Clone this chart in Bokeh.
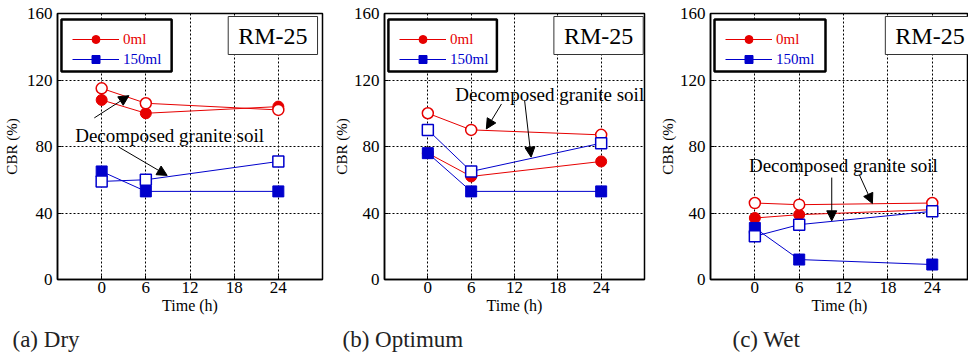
from bokeh.plotting import figure
from bokeh.layouts import row
from bokeh.models import (Range1d, FixedTicker, Legend, LegendItem, Label,
                          Arrow, NormalHead, BoxAnnotation, Title)
from bokeh.embed import file_html
from bokeh.resources import INLINE

# ---------------- data ----------------
times = [0, 6, 24]
x_ticks = [0, 6, 12, 18, 24]
y_ticks = [0, 40, 80, 120, 160]
legend_labels = ["0ml", "150ml"]
panel_titles = ["(a) Dry", "(b) Optimum", "(c) Wet"]
box_text = "RM-25"
note_text = "Decomposed granite soil"

# filled markers (legend series) and open markers (decomposed granite soil)
dry_0ml = [108, 100, 104]
dry_0ml_dgs = [115, 106, 102]
dry_150ml = [65, 53, 53]
dry_150ml_dgs = [59, 60, 71]

opt_0ml = [76, 62, 71]
opt_0ml_dgs = [100, 90, 87]
opt_150ml = [76, 53, 53]
opt_150ml_dgs = [90, 65, 82]

wet_0ml = [37, 39, 42]
wet_0ml_dgs = [46, 45, 46]
wet_150ml = [31, 12, 9]
wet_150ml_dgs = [26, 33, 41]

# annotation arrows (x_start, y_start, x_end, y_end) and note anchors
dry_arrows = [(-1.0, 97.2, 3.7, 110.6), (2.35, 79.6, 8.9, 62.6)]
opt_arrows = [(10.2, 105.6, 8.1, 90.6), (13.4, 107.6, 14.3, 73.6)]
wet_arrows = [(10.4, 61.3, 10.4, 35.3), (14.1, 63.3, 15.9, 45.7)]
dry_note = (-3.6, 86.6)
opt_note = (3.8, 111.0)
wet_note = (-0.8, 68.7)

FONT = "Liberation Serif"
RED = "#e60000"
BLUE = "#0000cc"
H = 362
TOP, BOTTOM = 13, 83


def make_panel(title, s0, s0d, s1, s1d, arrows, note, W, ml, mr, x_end,
               cap_dx, box_cx, ylab_standoff):
    p = figure(width=W, height=H, title=None,
               x_range=Range1d(-6, x_end), y_range=Range1d(0, 160),
               output_backend="svg", toolbar_location=None,
               min_border_left=ml, min_border_right=mr,
               min_border_top=TOP, min_border_bottom=BOTTOM)
    fw = W - ml - mr
    fh = H - TOP - BOTTOM
    ppx = fw / (x_end + 6)
    ppy = fh / 160.0

    p.background_fill_color = "white"
    p.border_fill_color = "white"
    p.outline_line_color = "black"
    p.outline_line_width = 1.5

    for ax in (p.xaxis, p.yaxis):
        ax.major_label_text_font = FONT
        ax.major_label_text_font_size = "17px"
        ax.major_label_text_color = "black"
        ax.axis_label_text_font = FONT
        ax.axis_label_text_font_style = "normal"
        ax.axis_label_text_color = "black"
        ax.axis_line_color = "black"
        ax.axis_line_width = 1.5
        ax.major_tick_in = 4
        ax.major_tick_out = 0
        ax.minor_tick_line_color = None
        ax.major_tick_line_color = "black"
    p.xaxis.ticker = FixedTicker(ticks=x_ticks)
    p.yaxis.ticker = FixedTicker(ticks=y_ticks)
    p.xaxis.axis_label = "Time (h)"
    p.yaxis.axis_label = "CBR (%)"
    p.xaxis.axis_label_text_font_size = "16px"
    p.yaxis.axis_label_text_font_size = "15px"
    p.xaxis.major_label_standoff = 2
    p.yaxis.major_label_standoff = 5
    p.xaxis.axis_label_standoff = 1
    p.yaxis.axis_label_standoff = ylab_standoff

    for g in (p.xgrid, p.ygrid):
        g.grid_line_color = "black"
        g.grid_line_dash = "2 2"
        g.grid_line_width = 1
    p.xgrid.ticker = FixedTicker(ticks=x_ticks)
    p.ygrid.ticker = FixedTicker(ticks=y_ticks)

    # lines
    l0 = p.line(times, s0, line_color=RED, line_width=1)
    p.line(times, s0d, line_color=RED, line_width=1)
    l1 = p.line(times, s1, line_color=BLUE, line_width=1)
    p.line(times, s1d, line_color=BLUE, line_width=1)
    # markers
    m0 = p.scatter(times, s0, marker="circle", size=11, fill_color=RED, line_color=RED)
    p.scatter(times, s0d, marker="circle", size=11, fill_color="white",
              line_color=RED, line_width=1.5)
    m1 = p.scatter(times, s1, marker="square", size=11, fill_color=BLUE, line_color=BLUE)
    p.scatter(times, s1d, marker="square", size=11, fill_color="white",
              line_color=BLUE, line_width=1.5)

    # legend frame
    box = BoxAnnotation(left=-6 + 4 / ppx, right=-6 + 115 / ppx,
                        top=160 - 6 / ppy, bottom=160 - 58 / ppy,
                        fill_color="white", fill_alpha=1.0,
                        line_color="black", line_alpha=1.0, line_width=2.5)
    p.add_layout(box)
    for lab, rends, col, ybot in ((legend_labels[0], [l0, m0], RED, fh - 36),
                                  (legend_labels[1], [l1, m1], BLUE, fh - 56)):
        leg = Legend(items=[LegendItem(label=lab, renderers=rends)],
                     location=(15, ybot), padding=0, margin=0, spacing=0,
                     glyph_width=47, glyph_height=20, label_height=20,
                     label_standoff=4, label_text_font=FONT,
                     label_text_font_size="15px", label_text_color=col,
                     background_fill_alpha=0, border_line_alpha=0)
        p.add_layout(leg)

    # RM-25 box
    p.add_layout(Label(x=-6 + box_cx / ppx, y=160 - 22 / ppy, text=box_text,
                       text_align="center", text_baseline="middle",
                       text_font=FONT, text_font_size="24px", text_color="black",
                       background_fill_color="white", border_line_color="#333333",
                       border_line_width=1, padding=(10, 6)))

    # note + arrows
    p.add_layout(Label(x=note[0], y=note[1], text=note_text, text_align="left",
                       text_baseline="middle", text_font=FONT,
                       text_font_size="19px", text_color="black"))
    for xs, ys, xe, ye in arrows:
        p.add_layout(Arrow(end=NormalHead(size=10, fill_color="black", line_color="black"),
                           x_start=xs, y_start=ys, x_end=xe, y_end=ye,
                           line_color="black", line_width=1))

    # caption below the plot
    cap = Title(text=title, align="left", offset=cap_dx, standoff=17,
                text_font=FONT, text_font_size="23px", text_font_style="normal",
                text_color="#222222")
    p.add_layout(cap, "below")
    return p


p1 = make_panel(panel_titles[0], dry_0ml, dry_0ml_dgs, dry_150ml, dry_150ml_dgs,
                dry_arrows, dry_note, 330, 55, 8, 30, -45, 217, 4)
p2 = make_panel(panel_titles[1], opt_0ml, opt_0ml_dgs, opt_150ml, opt_150ml_dgs,
                opt_arrows, opt_note, 320, 48, 6, 30, -42, 219, 1)
p3 = make_panel(panel_titles[2], wet_0ml, wet_0ml_dgs, wet_150ml, wet_150ml_dgs,
                wet_arrows, wet_note, 318, 60, 0, 28.9, 22, 219.5, 1)

layout = row(p1, p2, p3)
open("out.html", "w").write(file_html(layout, INLINE))
